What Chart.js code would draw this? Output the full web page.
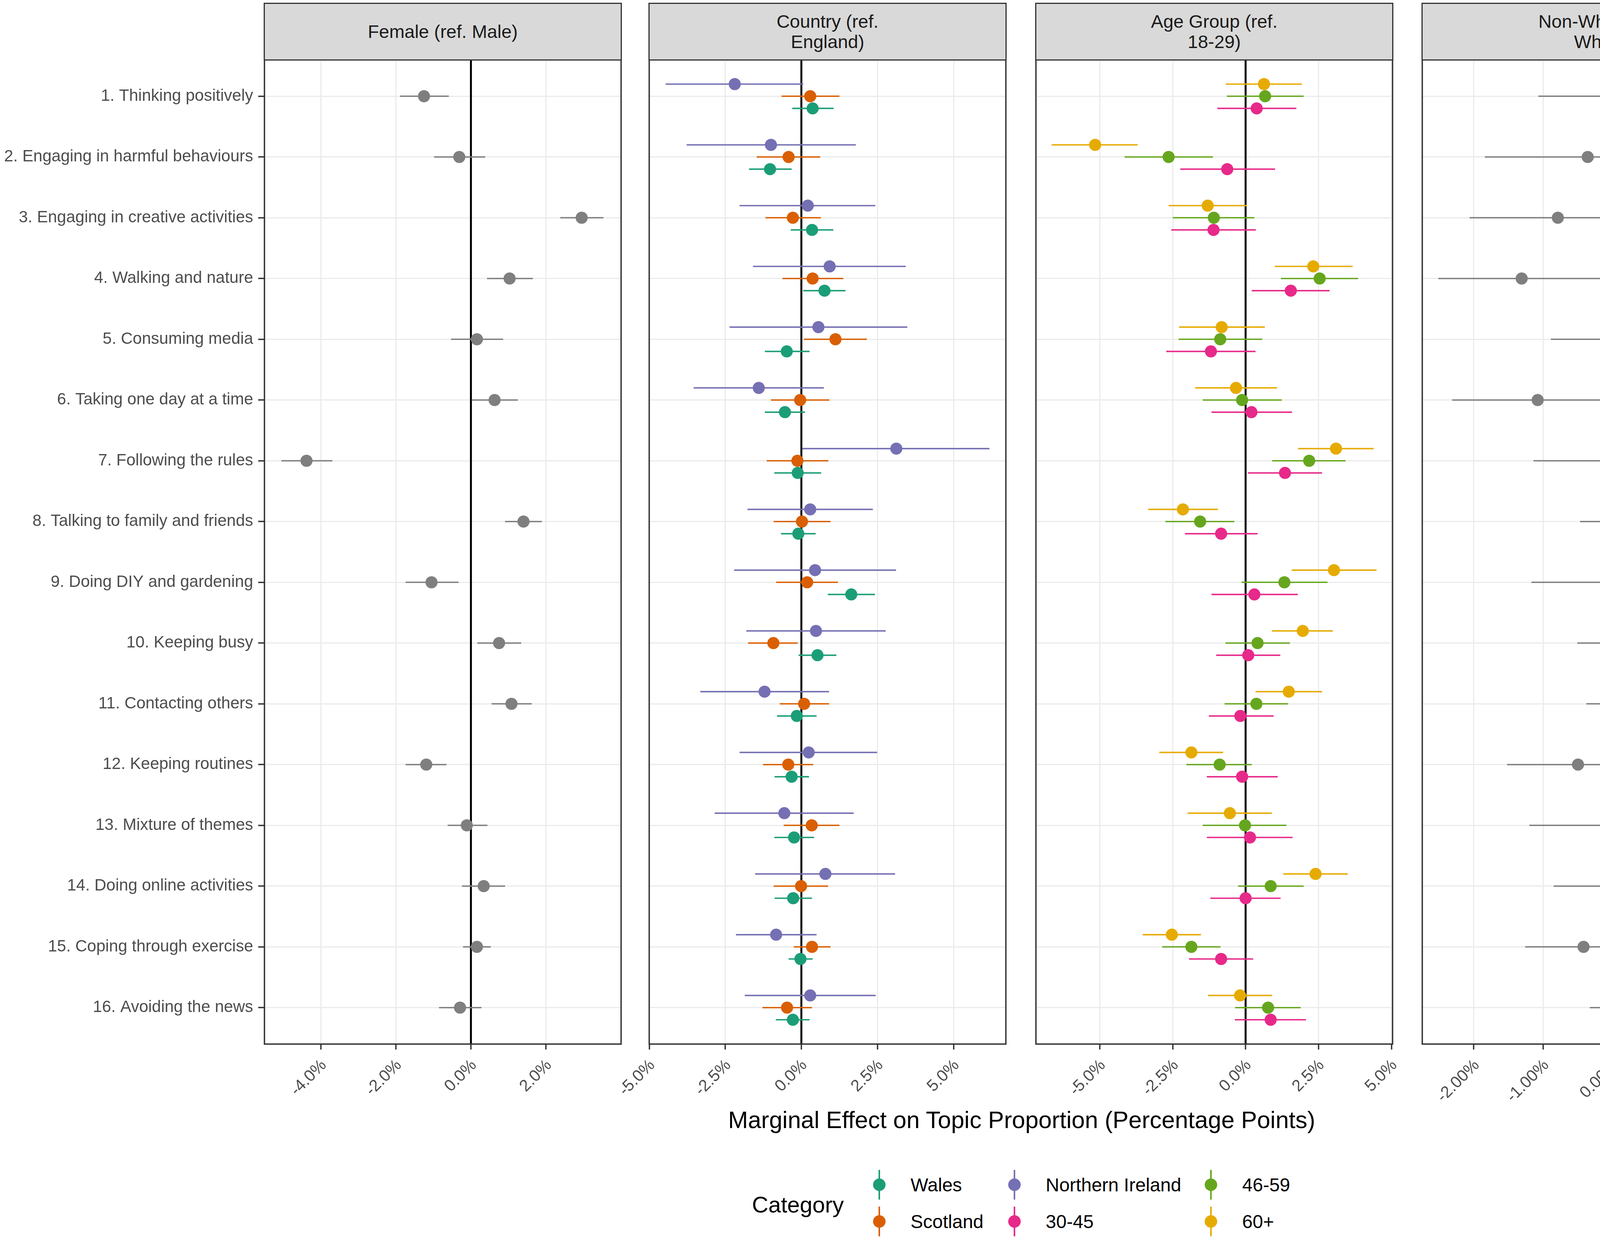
<!DOCTYPE html>
<html>
<head>
<meta charset="utf-8">
<title>Marginal effects on topic proportion</title>
<script src="https://cdn.jsdelivr.net/npm/chart.js@4.4.1/dist/chart.umd.min.js"></script>
<style>
  html, body { margin: 0; padding: 0; background: #fff; }
  body {
    width: 4562px; height: 3176px; position: relative; overflow: hidden;
    font-family: "Liberation Sans", Arial, Helvetica, sans-serif;
  }
  canvas { position: absolute; }
  .strip {
    position: absolute; box-sizing: border-box;
    background: #d9d9d9; border: 3.5px solid #333;
    display: flex; align-items: center; justify-content: center;
    text-align: center; font-size: 47px; line-height: 1.1; color: #1a1a1a;
  }
  .axis-title {
    position: absolute; font-size: 61px; color: #000; white-space: nowrap;
    transform: translate(-50%, -50%);
  }
  .legend-title {
    position: absolute; font-size: 58px; color: #000; transform: translateY(-50%);
  }
  .key { position: absolute; width: 40px; height: 76px; transform: translate(-50%, -50%); }
  .key .stem { position: absolute; left: 18px; top: 0; width: 3.5px; height: 76px; }
  .key .dot { position: absolute; left: 4px; top: 22px; width: 32px; height: 32px; border-radius: 50%; }
  .legend-label {
    position: absolute; font-size: 48px; color: #000; white-space: nowrap;
    transform: translateY(-50%);
  }
</style>
</head>
<body>
<script>
// ---- data (percentage points) ----
const topics = [
  '1. Thinking positively',
  '2. Engaging in harmful behaviours',
  '3. Engaging in creative activities',
  '4. Walking and nature',
  '5. Consuming media',
  '6. Taking one day at a time',
  '7. Following the rules',
  '8. Talking to family and friends',
  '9. Doing DIY and gardening',
  '10. Keeping busy',
  '11. Contacting others',
  '12. Keeping routines',
  '13. Mixture of themes',
  '14. Doing online activities',
  '15. Coping through exercise',
  '16. Avoiding the news'
];

const femaleEst = [-1.25, -0.31, 2.95, 1.03, 0.16, 0.63, -4.38, 1.40, -1.05, 0.75, 1.08, -1.19, -0.11, 0.34, 0.16, -0.29];
const femaleLo  = [-1.89, -0.98, 2.38, 0.43, -0.53, 0.02, -5.05, 0.91, -1.74, 0.17, 0.55, -1.74, -0.62, -0.24, -0.21, -0.85];
const femaleHi  = [-0.59, 0.38, 3.53, 1.65, 0.86, 1.25, -3.69, 1.89, -0.33, 1.34, 1.62, -0.65, 0.44, 0.91, 0.53, 0.28];

const walesEst = [0.37, -1.03, 0.35, 0.76, -0.48, -0.54, -0.12, -0.10, 1.64, 0.53, -0.15, -0.32, -0.24, -0.27, -0.03, -0.28];
const walesLo  = [-0.30, -1.72, -0.35, 0.06, -1.20, -1.20, -0.89, -0.67, 0.87, -0.09, -0.80, -0.88, -0.89, -0.88, -0.42, -0.84];
const walesHi  = [1.06, -0.32, 1.05, 1.45, 0.27, 0.12, 0.65, 0.47, 2.42, 1.15, 0.50, 0.25, 0.42, 0.35, 0.37, 0.27];

const scotlandEst = [0.29, -0.42, -0.28, 0.37, 1.12, -0.04, -0.13, 0.02, 0.19, -0.92, 0.09, -0.43, 0.34, -0.01, 0.35, -0.47];
const scotlandLo  = [-0.65, -1.47, -1.18, -0.62, 0.08, -1.00, -1.14, -0.91, -0.83, -1.75, -0.71, -1.26, -0.58, -0.91, -0.25, -1.28];
const scotlandHi  = [1.25, 0.62, 0.64, 1.38, 2.15, 0.92, 0.89, 0.96, 1.20, -0.12, 0.91, 0.39, 1.25, 0.88, 0.96, 0.35];

const nIrelandEst = [-2.19, -1.00, 0.21, 0.93, 0.56, -1.40, 3.12, 0.29, 0.45, 0.48, -1.21, 0.24, -0.56, 0.79, -0.83, 0.29];
const nIrelandLo  = [-4.46, -3.77, -2.03, -1.59, -2.36, -3.54, 0.03, -1.77, -2.21, -1.81, -3.32, -2.03, -2.85, -1.52, -2.15, -1.86];
const nIrelandHi  = [0.06, 1.79, 2.43, 3.43, 3.48, 0.74, 6.18, 2.35, 3.11, 2.77, 0.91, 2.49, 1.72, 3.08, 0.50, 2.44];

const age3045Est = [0.38, -0.63, -1.10, 1.55, -1.19, 0.20, 1.35, -0.84, 0.30, 0.09, -0.18, -0.12, 0.15, 0.00, -0.84, 0.86];
const age3045Lo  = [-0.97, -2.24, -2.55, 0.21, -2.72, -1.17, 0.08, -2.08, -1.17, -1.01, -1.26, -1.33, -1.33, -1.21, -1.94, -0.37];
const age3045Hi  = [1.74, 1.01, 0.35, 2.88, 0.34, 1.59, 2.62, 0.41, 1.79, 1.19, 0.96, 1.10, 1.61, 1.20, 0.26, 2.07];

const age4659Est = [0.67, -2.64, -1.09, 2.54, -0.87, -0.12, 2.18, -1.56, 1.33, 0.41, 0.37, -0.89, -0.02, 0.86, -1.86, 0.77];
const age4659Lo  = [-0.64, -4.15, -2.50, 1.21, -2.30, -1.47, 0.91, -2.75, -0.14, -0.69, -0.72, -2.03, -1.47, -0.26, -2.86, -0.36];
const age4659Hi  = [1.99, -1.12, 0.30, 3.86, 0.57, 1.24, 3.43, -0.39, 2.81, 1.52, 1.46, 0.21, 1.40, 1.99, -0.86, 1.89];

const age60Est = [0.63, -5.16, -1.30, 2.32, -0.82, -0.33, 3.10, -2.15, 3.03, 1.96, 1.48, -1.86, -0.54, 2.40, -2.53, -0.19];
const age60Lo  = [-0.68, -6.65, -2.64, 1.00, -2.28, -1.73, 1.80, -3.34, 1.58, 0.90, 0.34, -2.96, -1.99, 1.29, -3.53, -1.29];
const age60Hi  = [1.93, -3.70, 0.04, 3.67, 0.66, 1.08, 4.39, -0.95, 4.49, 2.99, 2.62, -0.77, 0.90, 3.50, -1.53, 0.91];

const nonWhiteEst = [0.20, -0.36, -0.79, -1.31, 0.63, -1.08, 0.27, 0.73, 0.18, 0.67, 0.73, -0.50, -0.03, 0.31, -0.42, 0.84];
const nonWhiteLo  = [-1.07, -1.84, -2.06, -2.51, -0.89, -2.31, -1.14, -0.47, -1.17, -0.51, -0.38, -1.52, -1.20, -0.85, -1.26, -0.33];
const nonWhiteHi  = [1.49, 1.13, 0.48, -0.10, 2.16, 0.15, 1.68, 1.93, 1.53, 1.84, 1.85, 0.51, 1.14, 1.47, 0.41, 2.02];

const femaleTicks = [-4, -2, 0, 2];
const femaleTickLabels = ['-4.0%', '-2.0%', '0.0%', '2.0%'];
const countryTicks = [-5, -2.5, 0, 2.5, 5];
const countryTickLabels = ['-5.0%', '-2.5%', '0.0%', '2.5%', '5.0%'];
const ageTicks = [-5, -2.5, 0, 2.5, 5];
const ageTickLabels = ['-5.0%', '-2.5%', '0.0%', '2.5%', '5.0%'];
const nonWhiteTicks = [-2, -1, 0, 1, 2];
const nonWhiteTickLabels = ['-2.00%', '-1.00%', '0.00%', '1.00%', '2.00%'];

// ---- layout and styles ----
const GREY = '#7f7f7f';
const COLORS = {
  'Wales': '#1b9e77', 'Scotland': '#d95f02', 'Northern Ireland': '#7570b3',
  '30-45': '#e7298a', '46-59': '#66a61e', '60+': '#e6ab02'
};
const DODGE = 0.2;              // vertical dodge in row units
const PANEL_X = [677, 1662, 2652, 3641];
const PANEL_W = 913;
const PANEL_TOP = 153;
const PANEL_BOTTOM = 2672;
const PANEL_H = PANEL_BOTTOM - PANEL_TOP;
// generous margins so rotated tick labels never squeeze the plot area
const TOP_PAD = 40, RIGHT_PAD = 70, BOTTOM_H = 170, INNER_LEFT = 130;

const panels = [
  { title: 'Female (ref. Male)', min: -5.5, max: 4.0, ticks: femaleTicks, labels: femaleTickLabels,
    series: [{ name: 'Female', color: GREY, est: femaleEst, lo: femaleLo, hi: femaleHi, off: 0 }] },
  { title: 'Country (ref.<br>England)', min: -5.0, max: 6.72, ticks: countryTicks, labels: countryTickLabels,
    series: [
      { name: 'Northern Ireland', color: COLORS['Northern Ireland'], est: nIrelandEst, lo: nIrelandLo, hi: nIrelandHi, off: -DODGE },
      { name: 'Scotland', color: COLORS['Scotland'], est: scotlandEst, lo: scotlandLo, hi: scotlandHi, off: 0 },
      { name: 'Wales', color: COLORS['Wales'], est: walesEst, lo: walesLo, hi: walesHi, off: DODGE }
    ] },
  { title: 'Age Group (ref.<br>18-29)', min: -7.19, max: 5.04, ticks: ageTicks, labels: ageTickLabels,
    series: [
      { name: '60+', color: COLORS['60+'], est: age60Est, lo: age60Lo, hi: age60Hi, off: -DODGE },
      { name: '46-59', color: COLORS['46-59'], est: age4659Est, lo: age4659Lo, hi: age4659Hi, off: 0 },
      { name: '30-45', color: COLORS['30-45'], est: age3045Est, lo: age3045Lo, hi: age3045Hi, off: DODGE }
    ] },
  { title: 'Non-White (ref.<br>White)', min: -2.74, max: 2.39, ticks: nonWhiteTicks, labels: nonWhiteTickLabels,
    series: [{ name: 'Non-White', color: GREY, est: nonWhiteEst, lo: nonWhiteLo, hi: nonWhiteHi, off: 0 }] }
];

// zero line, error bars under the points, and the panel frame
const facetPlugin = {
  id: 'facet',
  beforeDatasetsDraw(chart) {
    const { ctx, chartArea, scales: { x, y } } = chart;
    ctx.save();
    const x0 = x.getPixelForValue(0);
    ctx.strokeStyle = '#000';
    ctx.lineWidth = 5;
    ctx.beginPath();
    ctx.moveTo(x0, chartArea.top);
    ctx.lineTo(x0, chartArea.bottom);
    ctx.stroke();

    ctx.lineWidth = 3.6;
    chart.data.datasets.forEach(ds => {
      ctx.strokeStyle = ds.backgroundColor;
      ds.data.forEach(pt => {
        const py = y.getPixelForValue(pt.y);
        ctx.beginPath();
        ctx.moveTo(x.getPixelForValue(pt.lo), py);
        ctx.lineTo(x.getPixelForValue(pt.hi), py);
        ctx.stroke();
      });
    });
    ctx.restore();
  },
  afterDraw(chart) {
    const { ctx, chartArea: a } = chart;
    ctx.save();
    ctx.strokeStyle = '#333';
    ctx.lineWidth = 3.5;
    ctx.strokeRect(a.left, a.top, a.right - a.left, a.bottom - a.top);
    ctx.restore();
  }
};

function makePanel(p, k) {
  const leftW = k === 0 ? PANEL_X[0] : INNER_LEFT;
  const canvas = document.createElement('canvas');
  const w = leftW + PANEL_W + RIGHT_PAD;
  const h = TOP_PAD + PANEL_H + BOTTOM_H;
  canvas.width = w; canvas.height = h;
  canvas.style.left = (PANEL_X[k] - leftW) + 'px';
  canvas.style.top = (PANEL_TOP - TOP_PAD) + 'px';
  canvas.style.width = w + 'px'; canvas.style.height = h + 'px';
  document.body.appendChild(canvas);

  const datasets = p.series.map(s => ({
    label: s.name,
    data: s.est.map((v, i) => ({ x: v, y: i + 1 + s.off, lo: s.lo[i], hi: s.hi[i] })),
    backgroundColor: s.color,
    borderWidth: 0,
    pointRadius: 15.5,
    pointHoverRadius: 15.5
  }));

  new Chart(canvas, {
    type: 'scatter',
    data: { datasets },
    plugins: [facetPlugin],
    options: {
      responsive: false,
      animation: false,
      devicePixelRatio: 1,
      events: [],
      layout: { padding: { top: TOP_PAD, right: RIGHT_PAD, left: 0, bottom: 0 } },
      plugins: { legend: { display: false }, tooltip: { enabled: false } },
      scales: {
        x: {
          type: 'linear', min: p.min, max: p.max,
          afterBuildTicks: s => { s.ticks = p.ticks.map(v => ({ value: v })); },
          afterFit: s => { s.height = BOTTOM_H; },
          grid: { color: '#ebebeb', lineWidth: 3, drawTicks: true, tickLength: 14, tickColor: '#333', tickWidth: 3.5 },
          border: { display: false },
          ticks: {
            autoSkip: false, minRotation: 45, maxRotation: 45, padding: 16, labelOffset: 8,
            color: '#4d4d4d', font: { family: '"Liberation Sans", Arial, sans-serif', size: 42 },
            callback: (v, i) => p.labels[i]
          }
        },
        y: {
          type: 'linear', reverse: true, min: 0.4, max: topics.length + 0.6,
          afterBuildTicks: s => { s.ticks = topics.map((t, i) => ({ value: i + 1 })); },
          afterFit: s => { s.width = leftW; },
          grid: { color: '#ebebeb', lineWidth: 3, drawTicks: k === 0, tickLength: 16, tickColor: '#333', tickWidth: 3.5 },
          border: { display: false },
          ticks: {
            display: k === 0, autoSkip: false, padding: 13,
            color: '#4d4d4d', font: { family: '"Liberation Sans", Arial, sans-serif', size: 42 },
            callback: v => topics[v - 1]
          }
        }
      }
    }
  });

  const strip = document.createElement('div');
  strip.className = 'strip';
  strip.style.left = (PANEL_X[k] - 1.75) + 'px';
  strip.style.top = '7px';
  strip.style.width = (PANEL_W + 3.5) + 'px';
  strip.style.height = (PANEL_TOP - 7 + 1.75) + 'px';
  strip.innerHTML = p.title;
  document.body.appendChild(strip);
}

panels.forEach(makePanel);

// shared x axis title
const title = document.createElement('div');
title.className = 'axis-title';
title.textContent = 'Marginal Effect on Topic Proportion (Percentage Points)';
title.style.left = ((PANEL_X[0] + PANEL_X[3] + PANEL_W) / 2) + 'px';
title.style.top = '2866px';
document.body.appendChild(title);

// legend, filled by column as in the original
const legendOrder = ['Wales', 'Scotland', 'Northern Ireland', '30-45', '46-59', '60+'];
const legendColX = [2251, 2597, 3100];
const legendRowY = [3032, 3126];
const lt = document.createElement('div');
lt.className = 'legend-title';
lt.textContent = 'Category';
lt.style.left = '1925px';
lt.style.top = '3082px';
document.body.appendChild(lt);
legendOrder.forEach((name, i) => {
  const cx = legendColX[Math.floor(i / 2)];
  const cy = legendRowY[i % 2];
  const key = document.createElement('div');
  key.className = 'key';
  key.style.left = cx + 'px';
  key.style.top = cy + 'px';
  key.innerHTML = '<div class="stem" style="background:' + COLORS[name] + '"></div>' +
                  '<div class="dot" style="background:' + COLORS[name] + '"></div>';
  document.body.appendChild(key);
  const lab = document.createElement('div');
  lab.className = 'legend-label';
  lab.textContent = name;
  lab.style.left = (cx + 80) + 'px';
  lab.style.top = cy + 'px';
  document.body.appendChild(lab);
});
</script>
</body>
</html>
